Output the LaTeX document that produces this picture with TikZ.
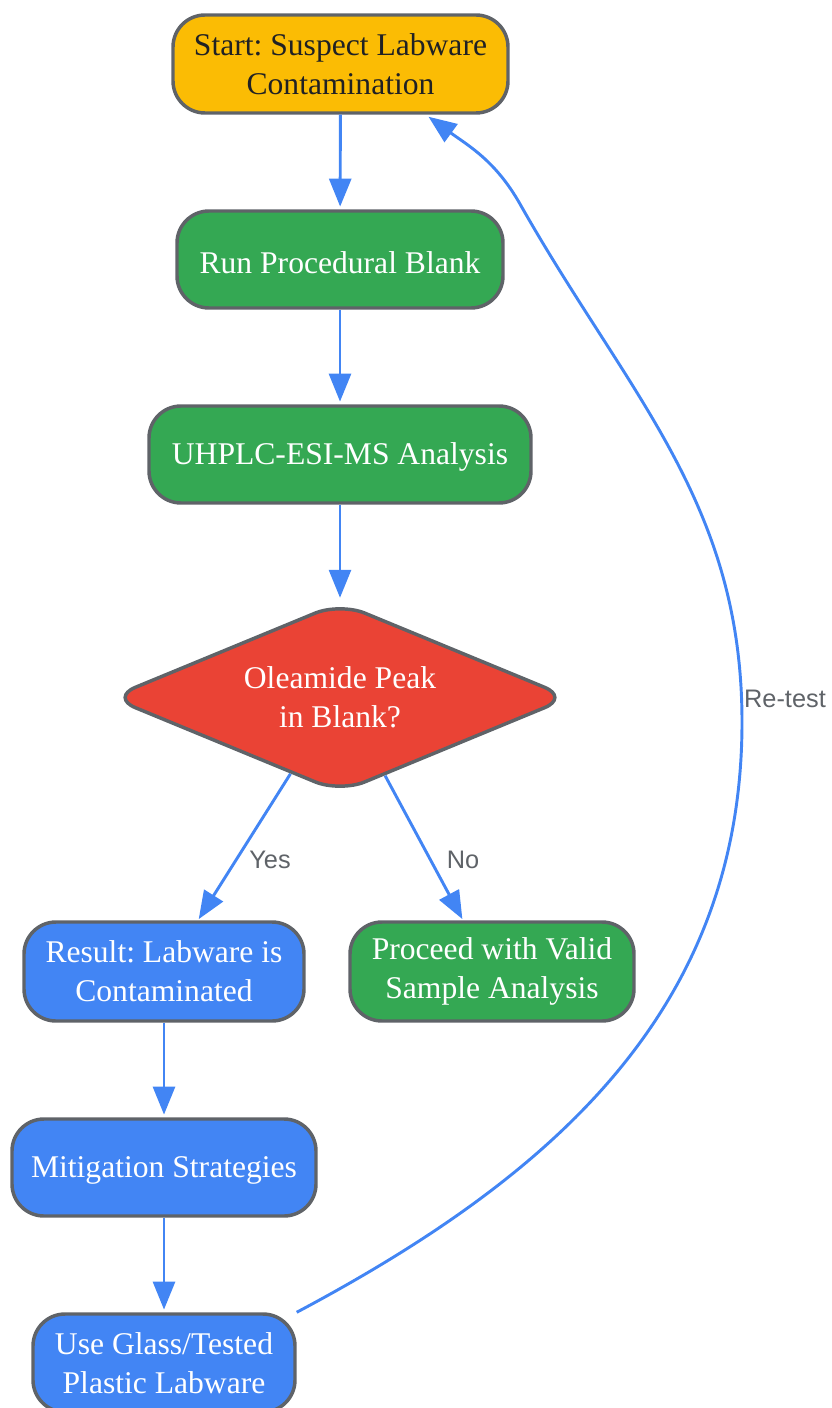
\documentclass[tikz,border=0pt]{standalone}
\usepackage{fontspec}
\setmainfont{Liberation Serif}
\newfontfamily\lblfont{Liberation Sans}
\usetikzlibrary{shapes.geometric,arrows.meta}
\definecolor{cyellow}{HTML}{FBBC04}
\definecolor{cgreen}{HTML}{34A853}
\definecolor{cred}{HTML}{EA4335}
\definecolor{cblue}{HTML}{4285F4}
\definecolor{cborder}{HTML}{5F6368}
\definecolor{cdark}{HTML}{202124}
\definecolor{clabel}{HTML}{5F6368}
\frenchspacing
\begin{document}
\begin{tikzpicture}[x=0.75pt,y=0.75pt,
  box/.style={draw=cborder, line width=2.6pt, rounded corners=24pt, align=center,
    font=\fontsize{23.7}{29}\selectfont, text=white, inner sep=0pt,
    execute at begin node={\rule{0pt}{20.5pt}}},
  edge/.style={draw=cblue, line width=2.2pt, -{Triangle[length=21pt,width=16.5pt]}},
  lbl/.style={font=\lblfont\fontsize{19}{22}\selectfont, text=clabel, inner sep=0pt}]
\useasboundingbox (0,0) rectangle (831,-1408);

\node[box, fill=cyellow, text=cdark, minimum width=251.25pt, minimum height=73.5pt] (start) at (340.5,-64) {Start: Suspect Labware\\Contamination};
\node[box, fill=cgreen, minimum width=244.5pt, minimum height=72.75pt] (run) at (340,-259.5) {Run Procedural Blank};
\node[box, fill=cgreen, minimum width=286.5pt, minimum height=72.75pt] (uhplc) at (340,-454.5) {UHPLC-ESI-MS Analysis};
\node[box, diamond, fill=cred, rounded corners=20pt, aspect=2.4, minimum width=345pt, minimum height=143pt] (dia) at (340,-697.5) {Oleamide Peak\\in Blank?};
\node[box, fill=cblue, minimum width=210pt, minimum height=74.25pt] (res) at (164,-971.5) {Result: Labware is\\Contaminated};
\node[box, fill=cgreen, minimum width=213pt, minimum height=74.25pt] (proc) at (492,-971.5) {Proceed with Valid\\Sample Analysis};
\node[box, fill=cblue, minimum width=228pt, minimum height=72.75pt] (mit) at (164,-1167.5) {Mitigation Strategies};
\node[box, fill=cblue, minimum width=196.5pt, minimum height=73.5pt] (ug) at (164,-1363) {Use Glass/Tested\\Plastic Labware};

\draw[edge, shorten >=2pt] (start) -- (run);
\draw[edge, shorten >=2pt] (run) -- (uhplc);
\draw[edge, shorten >=2pt] (uhplc) -- (dia);
\draw[edge, shorten >=1pt] (dia.-123) -- ([xshift=25.5pt]res.north);
\draw[edge, shorten >=1pt] (dia.-60) -- ([xshift=-21.75pt]proc.north);
\draw[edge, shorten >=2pt] (res) -- (mit);
\draw[edge, shorten >=2pt] (mit) -- (ug);

\coordinate (r2) at (742,-722);
\coordinate (r4) at (520,-204);
\draw[edge] (ug.north east) to[out=28,in=270] (r2)
  to[out=90,in=-60.5] (r4)
  to[out=119.5,in=-36] ([xshift=66pt,yshift=-1.5pt]start.south);

\node[lbl] (lyes) at (270,-860) {Yes};
\node[lbl] (lno) at (463,-860) {No};
\node[lbl] (lre) at (785,-699) {Re-test};
\end{tikzpicture}
\end{document}
